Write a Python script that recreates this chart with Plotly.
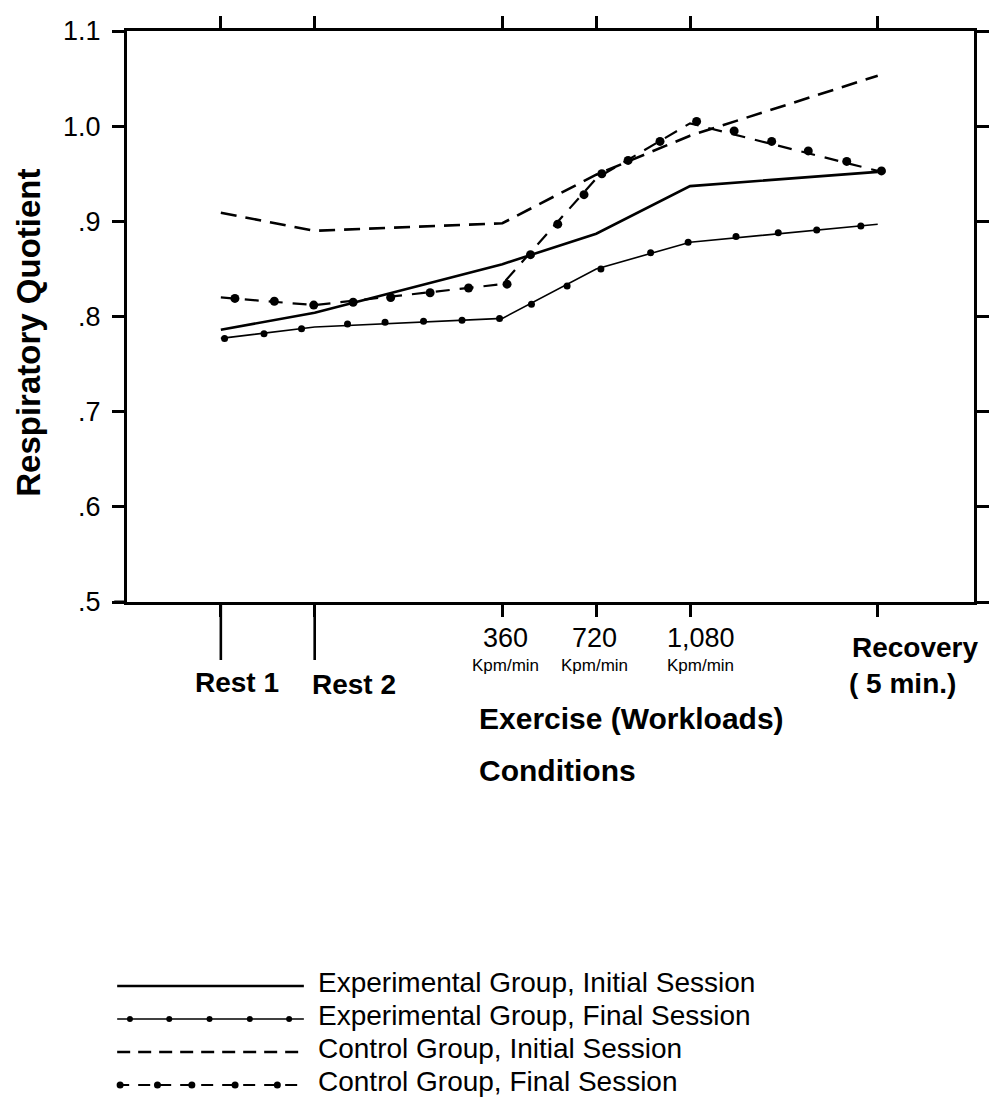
import plotly.graph_objects as go

# ---------------- data ----------------
conditions = ["Rest 1", "Rest 2", "360", "720", "1,080", "Recovery"]
cond_pos = [1, 2, 4, 5, 6, 8]

exp_initial = [0.786, 0.804, 0.855, 0.887, 0.937, 0.952]
exp_final = [0.777, 0.789, 0.798, 0.850, 0.878, 0.897]
ctrl_initial = [0.909, 0.890, 0.898, 0.949, 0.990, 1.053]
ctrl_final = [0.820, 0.812, 0.834, 0.945, 1.003, 0.953]

exp_final_dots_x = [1.04, 1.46, 1.86, 2.35, 2.75, 3.16, 3.57, 3.97, 4.31, 4.69,
                    5.05, 5.58, 5.98, 6.49, 6.94, 7.35, 7.82]
exp_final_dots_y = [0.777, 0.782, 0.787, 0.792, 0.794, 0.795, 0.796, 0.798, 0.813, 0.832,
                    0.850, 0.867, 0.878, 0.884, 0.888, 0.891, 0.895]
ctrl_final_dots_x = [1.15, 1.57, 1.99, 2.41, 2.81, 3.23, 3.64, 4.05, 4.30, 4.59,
                     4.87, 5.06, 5.34, 5.68, 6.07, 6.47, 6.87, 7.26, 7.67, 8.04]
ctrl_final_dots_y = [0.819, 0.816, 0.812, 0.815, 0.820, 0.825, 0.830, 0.834, 0.865, 0.897,
                     0.928, 0.950, 0.964, 0.984, 1.005, 0.995, 0.984, 0.974, 0.963, 0.953]

y_ticks = [0.5, 0.6, 0.7, 0.8, 0.9, 1.0, 1.1]
y_tick_text = [".5", ".6", ".7", ".8", ".9", "1.0", "1.1"]

legend_names = ["Experimental Group, Initial Session",
                "Experimental Group, Final Session",
                "Control Group, Initial Session",
                "Control Group, Final Session"]

# ---------------- layout helpers ----------------
W, H = 1000, 1097
L, R, T, B = 127, 989, 31, 602
FONT = "Liberation Sans, Arial, sans-serif"


def px(x):
    return (x - L) / (R - L)


def py(y):
    return (B - y) / (B - T)


fig = go.Figure()

fig.add_trace(go.Scatter(x=cond_pos, y=exp_initial, mode="lines",
                         line=dict(color="black", width=2.6), name=legend_names[0]))
fig.add_trace(go.Scatter(x=cond_pos, y=exp_final, mode="lines",
                         line=dict(color="black", width=1.6), name=legend_names[1]))
fig.add_trace(go.Scatter(x=exp_final_dots_x, y=exp_final_dots_y, mode="markers",
                         marker=dict(color="black", size=7), name=legend_names[1]))
fig.add_trace(go.Scatter(x=cond_pos, y=ctrl_initial, mode="lines",
                         line=dict(color="black", width=2.6, dash="16px,9px"),
                         name=legend_names[2]))
fig.add_trace(go.Scatter(x=cond_pos, y=ctrl_final, mode="lines",
                         line=dict(color="black", width=2.2, dash="14px,10px"),
                         name=legend_names[3]))
fig.add_trace(go.Scatter(x=ctrl_final_dots_x, y=ctrl_final_dots_y, mode="markers",
                         marker=dict(color="black", size=9), name=legend_names[3]))

shapes = []
# long ticks under Rest 1 / Rest 2
for xp in cond_pos[:2]:
    shapes.append(dict(type="line", xref="x", yref="paper", x0=xp, x1=xp,
                       y0=0, y1=py(660), line=dict(color="black", width=2.6)))
# bottom axis slightly overshooting the left axis, as in the original
shapes.append(dict(type="line", xref="paper", yref="paper", x0=px(114), x1=0,
                   y0=0, y1=0, line=dict(color="black", width=3)))

# legend samples
rows = [982, 1015, 1048, 1081]
lx0, lx1 = 117, 307
shapes.append(dict(type="line", xref="paper", yref="paper", x0=px(lx0), x1=px(lx1),
                   y0=py(rows[0] + 4), y1=py(rows[0] + 4), line=dict(color="black", width=2.4)))
shapes.append(dict(type="line", xref="paper", yref="paper", x0=px(lx0), x1=px(lx1),
                   y0=py(rows[1] + 4), y1=py(rows[1] + 4), line=dict(color="black", width=1.6)))
shapes.append(dict(type="line", xref="paper", yref="paper", x0=px(lx0), x1=px(lx1),
                   y0=py(rows[2] + 4), y1=py(rows[2] + 4),
                   line=dict(color="black", width=2.4, dash="13px,8px")))
shapes.append(dict(type="line", xref="paper", yref="paper", x0=px(lx0), x1=px(lx1),
                   y0=py(rows[3] + 4), y1=py(rows[3] + 4),
                   line=dict(color="black", width=2.2, dash="12px,9px")))
for row, dots, size in [(rows[1], [130, 170, 211, 252, 292], 6),
                        (rows[3], [120, 158, 193, 237, 280], 7)]:
    for dx in dots:
        shapes.append(dict(type="circle", xref="paper", yref="paper",
                           xsizemode="pixel", ysizemode="pixel",
                           xanchor=px(dx), yanchor=py(row + 4),
                           x0=-size / 2, x1=size / 2, y0=-size / 2, y1=size / 2,
                           fillcolor="black", line=dict(width=0)))

annotations = []


def txt(text, x, y, size, bold=False, xanchor="center", yanchor="middle", angle=0):
    annotations.append(dict(text=("<b>%s</b>" % text) if bold else text,
                            xref="paper", yref="paper", x=px(x), y=py(y),
                            xanchor=xanchor, yanchor=yanchor, showarrow=False,
                            textangle=angle,
                            font=dict(family=FONT, size=size, color="black")))


txt("Respiratory Quotient", 27, 333, 33, bold=True, angle=-90)
txt(conditions[0], 239, 682, 28, bold=True)
txt(conditions[1], 358, 684, 28, bold=True)
txt(conditions[2], 512, 638, 27)
txt(conditions[3], 603, 638, 27)
txt(conditions[4], 711, 638, 27)
for xk in [512, 603, 711]:
    txt("Kpm/min", xk, 665, 17)
txt(conditions[5], 929, 647, 28, bold=True)
txt("( 5 min.)", 916, 683, 28, bold=True)
txt("Exercise (Workloads)", 483, 718, 30, bold=True, xanchor="left")
txt("Conditions", 483, 770, 30, bold=True, xanchor="left")
for name, row in zip(legend_names, rows):
    txt(name, 319, row, 28, xanchor="left")

fig.update_layout(
    width=W, height=H,
    margin=dict(l=L, r=W - R, t=T, b=H - B, pad=0),
    paper_bgcolor="white", plot_bgcolor="white",
    showlegend=False,
    shapes=shapes, annotations=annotations,
    xaxis=dict(range=[0, 9.026], showgrid=False, zeroline=False,
               showline=True, linecolor="black", linewidth=3, mirror="ticks",
               ticks="outside", ticklen=12, tickwidth=2.6, tickcolor="black",
               tickvals=cond_pos, showticklabels=False),
    yaxis=dict(range=[0.5, 1.1], showgrid=False, zeroline=False,
               showline=True, linecolor="black", linewidth=3, mirror="ticks",
               ticks="outside", ticklen=12, tickwidth=2.6, tickcolor="black",
               tickvals=y_ticks, ticktext=y_tick_text, ticklabelstandoff=6,
               tickfont=dict(family=FONT, size=27, color="black")),
)

fig.write_html("out.html")
